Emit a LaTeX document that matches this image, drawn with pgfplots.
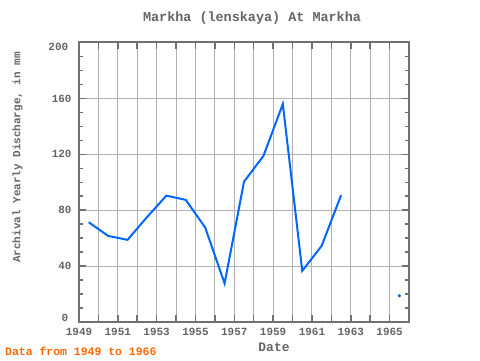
\documentclass[border=0pt]{standalone}
\usepackage{fontspec}
\setmainfont{Liberation Mono}
\usepackage{pgfplots}
\pgfplotsset{compat=1.18}
\definecolor{txt}{RGB}{100,100,100}
\definecolor{frm}{RGB}{112,112,112}
\definecolor{grd}{RGB}{176,176,176}
\definecolor{ser}{RGB}{0,102,255}
\definecolor{foot}{RGB}{255,102,0}
\begin{document}
\begin{tikzpicture}[x=1bp,y=1bp]
\useasboundingbox (0,0) rectangle (480,360);
\begin{axis}[at={(79bp,38bp)}, anchor=south west, scale only axis,
  width=330bp, height=279.5bp,
  xmin=1949, xmax=1966, ymin=0, ymax=200,
  xtick={1949,1950,...,1966},
  xticklabels={1949,,1951,,1953,,1955,,1957,,1959,,1961,,1963,,1965,,},
  ytick={0,40,...,200},
  yticklabels={,40,80,120,160,},
  minor x tick num=2, minor y tick num=3,
  tick align=inside,
  major tick length=7bp, minor tick length=4bp,
  every tick/.style={frm, line width=1.5bp},
  xmajorgrids, ymajorgrids,
  major grid style={grd, line width=1bp},
  axis line style={frm, line width=2bp},
  /pgf/number format/assume math mode=true,
  tick label style={font=\bfseries\fontsize{11}{11}\selectfont, text=txt},
  yticklabel style={xshift=-4bp},
  xticklabel style={yshift=-3bp},
  clip=false,
]
\addplot[ser, line width=2bp] coordinates {
(1949.5,71.4)(1950.5,61.6)(1951.5,58.8)(1952.5,75)(1953.5,90.4)(1954.5,87.4)(1955.5,67.6)(1956.5,27.6)(1957.5,100.4)(1958.5,118.8)(1959.5,156)(1960.5,36.6)(1961.5,54.5)(1962.5,90.7)
};
\addplot[ser, only marks, mark=*, mark size=1.5bp] coordinates {(1965.5,18.8)};
\node[anchor=east, xshift=-7.3bp, yshift=4.5bp, font=\bfseries\fontsize{11}{11}\selectfont, text=txt] at (axis cs:1949,0) {0};
\node[anchor=east, xshift=-7.3bp, yshift=-4bp, font=\bfseries\fontsize{11}{11}\selectfont, text=txt] at (axis cs:1949,200) {200};
\end{axis}
\node[font=\bfseries\fontsize{13.5}{13.5}\selectfont, text=txt] at (252,342) {Markha (lenskaya) At Markha};
\node[rotate=90, font=\bfseries\fontsize{11}{11}\selectfont, text=txt] at (17.5,202.5) {Archival Yearly Discharge, in mm};
\node[font=\bfseries\fontsize{13}{13}\selectfont, text=txt] at (274,12.5) {Date};
\node[anchor=west, inner sep=0pt, font=\bfseries\fontsize{11.5}{11.5}\selectfont, text=foot] at (5,8.5) {Data from 1949 to 1966};
\end{tikzpicture}
\end{document}
